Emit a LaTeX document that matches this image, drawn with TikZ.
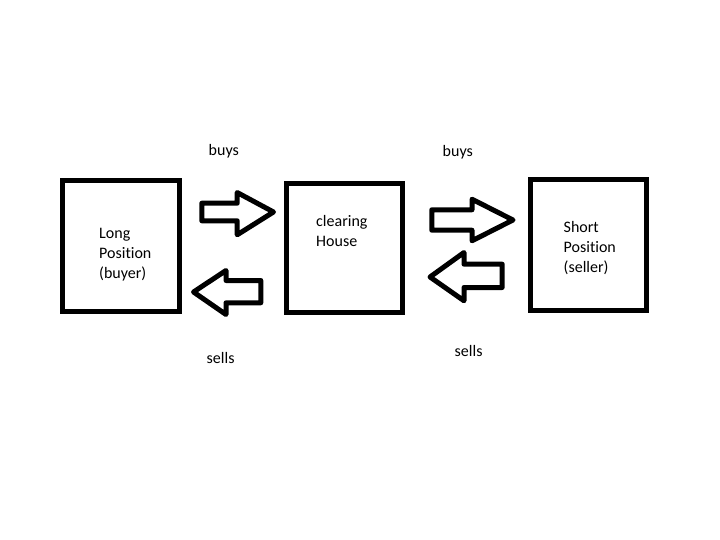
\documentclass[tikz,border=0pt]{standalone}
\usepackage{fontspec}
\setmainfont{Carlito}[Ligatures={NoCommon,NoContextual}]
\begin{document}
\begin{tikzpicture}[x=1pt,y=-1pt,
  boxstyle/.style={draw=black,line width=5pt,fill=white,inner sep=0pt,line join=miter},
  blockarrow/.style={draw=black,line width=5pt,fill=white,line join=round},
  lbl/.style={inner sep=0pt,anchor=base west,font=\fontsize{16}{20}\selectfont},
  boxtext/.style={inner sep=0pt,anchor=base west,align=left,font=\fontsize{16}{20}\selectfont}]
\useasboundingbox[fill=white] (0,0) rectangle (720,540);
% boxes
\node[boxstyle,minimum width=117pt,minimum height=131pt] (long) at (121,246) {};
\node[boxstyle,minimum width=115.7pt,minimum height=128.5pt] (clear) at (344.6,248.2) {};
\node[boxstyle,minimum width=116pt,minimum height=130.4pt] (short) at (588.5,245) {};
% box texts (anchored at the baseline of the last line)
\node[boxtext] (longtxt) at (99,278) {Long\\Position\\(buyer)};
\node[boxtext] (cleartxt) at (316,246) {clearing\\House};
\node[boxtext] (shorttxt) at (563.5,272.5) {Short\\Position\\(seller)};
% block arrows
\draw[blockarrow] (201.8,203.2) -- (237.2,203.2) -- (237.2,192.5) -- (273.5,212) -- (237.2,234.8) -- (237.2,220.8) -- (201.8,220.8) -- cycle;
\draw[blockarrow] (260.8,280.5) -- (226,280.5) -- (226,270.5) -- (193.5,292) -- (226,314.5) -- (226,302.8) -- (260.8,302.8) -- cycle;
\draw[blockarrow] (431.8,209.8) -- (472,209.8) -- (472,199.2) -- (513,220) -- (472,240.8) -- (472,230.2) -- (431.8,230.2) -- cycle;
\draw[blockarrow] (502.2,264.2) -- (464,264.2) -- (464,252.5) -- (430,277) -- (464,300.8) -- (464,287.5) -- (502.2,287.5) -- cycle;
% labels
\node[lbl] (buys1) at (208.5,155.5) {buys};
\node[lbl] (buys2) at (442.5,157) {buys};
\node[lbl] (sells1) at (206.5,363) {sells};
\node[lbl] (sells2) at (454.5,356.5) {sells};
\end{tikzpicture}
\end{document}
